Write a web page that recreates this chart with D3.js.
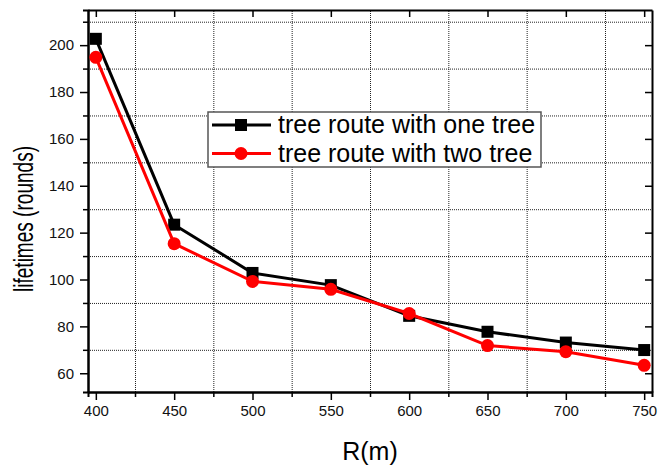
<html>
    <head>
        <meta charset="utf-8">
        <script src="https://d3js.org/d3.v7.min.js"></script>
        <title>lifetimes vs R</title>
        <style>
            body { margin: 0; background: white; }
            text { font-family: "Liberation Sans", Arial, sans-serif; }
            .gridlines line { stroke: #222; stroke-dasharray: 1,1; stroke-width: 1; }
            .gridlines .domain { stroke: none; }
            .axis .domain { stroke: black; stroke-width: 2; }
            .axis line { stroke: black; stroke-width: 1.5; }
            .axis text { font-size: 15px; fill: #111; }
        </style>
    </head>
    <body>
        <svg id="chart" width="671" height="469"></svg>
        <script>
            // data
            const radius = [400, 450, 500, 550, 600, 650, 700, 750];
            const oneTree = [202.7, 123.4, 102.8, 97.6, 84.5, 77.7, 73.1, 69.9];
            const twoTree = [194.8, 115.3, 99.2, 95.8, 85.5, 71.8, 69.2, 63.4];
            const seriesNames = ["tree route with one tree", "tree route with two tree"];
            const xTicks = [400, 450, 500, 550, 600, 650, 700, 750];
            const xMinor = [425, 475, 525, 575, 625, 675, 725];
            const yTicks = [60, 80, 100, 120, 140, 160, 180, 200];
            const yMinor = [70, 90, 110, 130, 150, 170, 190, 210];

            const svg = d3.select("svg#chart");
            const margin = {top: 10, right: 19, bottom: 77, left: 88};
            const chartWidth = 671 - margin.left - margin.right;
            const chartHeight = 469 - margin.top - margin.bottom;

            const xScale = d3.scaleLinear().domain([395, 755]).range([0, chartWidth]);
            const yScale = d3.scaleLinear().domain([52, 215]).range([chartHeight, 0]);

            let chartArea = svg.append("g")
                               .attr("transform", `translate(${margin.left}, ${margin.top})`);

            // dotted gridlines sit on the minor tick positions
            chartArea.append("g")
                     .attr("class", "gridlines")
                     .call(d3.axisLeft(yScale).tickValues(yMinor).tickSize(-chartWidth).tickFormat(""));
            chartArea.append("g")
                     .attr("class", "gridlines")
                     .attr("transform", `translate(0, ${chartHeight})`)
                     .call(d3.axisBottom(xScale).tickValues(xMinor).tickSize(-chartHeight).tickFormat(""));

            // minor ticks
            chartArea.append("g").attr("class", "axis")
                     .call(d3.axisLeft(yScale).tickValues(yMinor).tickSize(5).tickFormat(""));
            chartArea.append("g").attr("class", "axis")
                     .attr("transform", `translate(0, ${chartHeight})`)
                     .call(d3.axisBottom(xScale).tickValues(xMinor).tickSize(5).tickFormat(""));

            // main axes
            chartArea.append("g").attr("class", "axis")
                     .call(d3.axisLeft(yScale).tickValues(yTicks).tickSize(8).tickSizeOuter(0).tickPadding(6));
            chartArea.append("g").attr("class", "axis")
                     .attr("transform", `translate(0, ${chartHeight})`)
                     .call(d3.axisBottom(xScale).tickValues(xTicks).tickSize(8).tickSizeOuter(0).tickPadding(5));
            chartArea.append("g").attr("class", "axis")
                     .attr("transform", `translate(${chartWidth}, 0)`)
                     .call(d3.axisLeft(yScale).tickValues(yTicks).tickSize(7).tickSizeOuter(0).tickFormat(""));
            chartArea.append("g").attr("class", "axis")
                     .call(d3.axisBottom(xScale).tickValues(xTicks).tickSize(7).tickSizeOuter(0).tickFormat(""));

            // series
            const line = d3.line()
                           .x((d, i) => xScale(radius[i]))
                           .y(d => yScale(d));

            chartArea.append("path")
                     .datum(oneTree)
                     .attr("d", line)
                     .attr("fill", "none")
                     .attr("stroke", "black")
                     .attr("stroke-width", 3);
            chartArea.selectAll("rect.pt")
                     .data(oneTree)
                     .join("rect")
                     .attr("class", "pt")
                     .attr("x", (d, i) => xScale(radius[i]) - 6)
                     .attr("y", d => yScale(d) - 6)
                     .attr("width", 12)
                     .attr("height", 12)
                     .attr("fill", "black");

            chartArea.append("path")
                     .datum(twoTree)
                     .attr("d", line)
                     .attr("fill", "none")
                     .attr("stroke", "red")
                     .attr("stroke-width", 3);
            chartArea.selectAll("circle.pt")
                     .data(twoTree)
                     .join("circle")
                     .attr("class", "pt")
                     .attr("cx", (d, i) => xScale(radius[i]))
                     .attr("cy", d => yScale(d))
                     .attr("r", 6.5)
                     .attr("fill", "red");

            // legend
            let legend = svg.append("g").attr("transform", "translate(208, 112)");
            legend.append("rect")
                  .attr("width", 333)
                  .attr("height", 55)
                  .attr("fill", "white")
                  .attr("stroke", "#555")
                  .attr("stroke-width", 1.5);
            const colors = ["black", "red"];
            seriesNames.forEach((name, i) => {
                let row = legend.append("g").attr("transform", `translate(0, ${13 + i * 28.5})`);
                row.append("line")
                   .attr("x1", 4).attr("x2", 63)
                   .attr("stroke", colors[i]).attr("stroke-width", 3);
                if (i == 0) {
                    row.append("rect").attr("x", 27).attr("y", -6).attr("width", 12).attr("height", 12).attr("fill", "black");
                } else {
                    row.append("circle").attr("cx", 33).attr("r", 6.5).attr("fill", "red");
                }
                row.append("text")
                   .attr("x", 70)
                   .attr("y", 8)
                   .attr("font-size", "25px")
                   .attr("fill", "black")
                   .text(name);
            });

            // axis titles
            svg.append("text")
               .attr("x", margin.left + chartWidth / 2)
               .attr("y", 460)
               .attr("text-anchor", "middle")
               .attr("font-size", "25px")
               .text("R(m)");
            svg.append("text")
               .attr("transform", "translate(33, 219) rotate(-90)")
               .attr("text-anchor", "middle")
               .attr("font-size", "27px")
               .attr("textLength", 146)
               .attr("lengthAdjust", "spacingAndGlyphs")
               .text("lifetimes (rounds)");
        </script>
    </body>
</html>
